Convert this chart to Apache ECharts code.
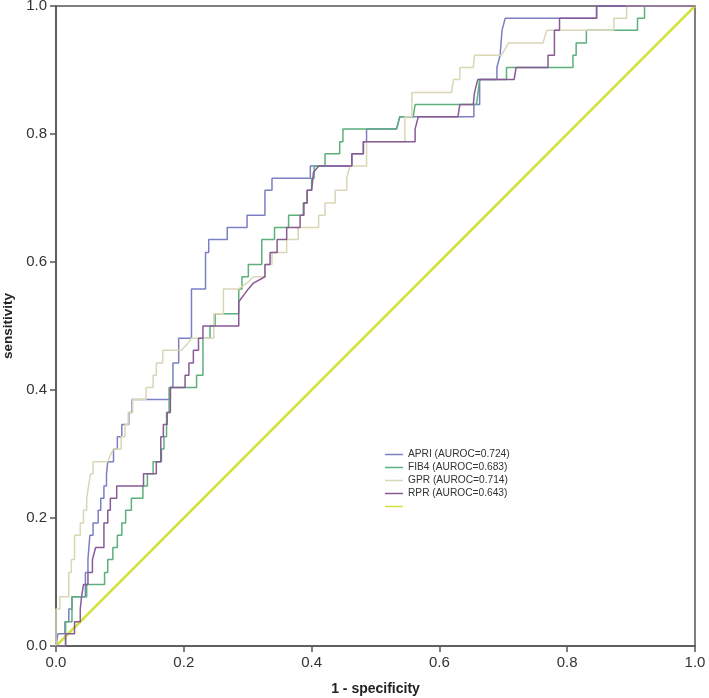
<!DOCTYPE html>
<html>
<head>
<meta charset="utf-8">
<script src="https://cdn.jsdelivr.net/npm/echarts@6/dist/echarts.min.js"></script>
<style>
html,body{margin:0;padding:0;background:#fff;}
#chart{width:709px;height:698px;}
</style>
</head>
<body>
<div id="chart"></div>
<script>
// ROC points [1 - specificity, sensitivity]
const apri = [[0,0],[0.003,0],[0.003,0.019],[0.014,0.019],[0.014,0.038],[0.02,0.038],[0.02,0.058],[0.025,0.058],[0.025,0.077],[0.046,0.077],[0.046,0.115],[0.05,0.115],[0.05,0.135],[0.053,0.135],[0.053,0.173],[0.058,0.173],[0.058,0.192],[0.066,0.192],[0.066,0.212],[0.07,0.212],[0.07,0.231],[0.075,0.231],[0.075,0.25],[0.079,0.25],[0.079,0.269],[0.081,0.269],[0.081,0.288],[0.09,0.288],[0.09,0.308],[0.096,0.308],[0.096,0.327],[0.103,0.327],[0.103,0.346],[0.114,0.346],[0.114,0.365],[0.119,0.365],[0.119,0.385],[0.179,0.385],[0.179,0.404],[0.183,0.404],[0.183,0.442],[0.192,0.442],[0.192,0.481],[0.212,0.481],[0.212,0.558],[0.234,0.558],[0.234,0.615],[0.239,0.615],[0.239,0.635],[0.268,0.635],[0.268,0.654],[0.299,0.654],[0.299,0.673],[0.327,0.673],[0.327,0.712],[0.338,0.712],[0.338,0.731],[0.398,0.731],[0.398,0.75],[0.463,0.75],[0.463,0.769],[0.481,0.769],[0.481,0.788],[0.486,0.788],[0.486,0.808],[0.533,0.808],[0.538,0.827],[0.654,0.827],[0.654,0.846],[0.663,0.846],[0.663,0.885],[0.69,0.885],[0.69,0.904],[0.695,0.923],[0.698,0.962],[0.703,0.981],[0.846,0.981],[0.846,1],[1,1]];
const fib4 = [[0,0],[0.015,0],[0.015,0.038],[0.025,0.038],[0.025,0.077],[0.048,0.077],[0.048,0.096],[0.076,0.096],[0.076,0.115],[0.081,0.115],[0.081,0.135],[0.089,0.135],[0.089,0.154],[0.096,0.154],[0.096,0.173],[0.103,0.173],[0.103,0.192],[0.109,0.192],[0.109,0.212],[0.118,0.212],[0.118,0.231],[0.136,0.231],[0.136,0.25],[0.143,0.25],[0.143,0.269],[0.152,0.269],[0.152,0.288],[0.165,0.288],[0.165,0.308],[0.169,0.308],[0.169,0.327],[0.173,0.327],[0.173,0.365],[0.177,0.365],[0.177,0.404],[0.22,0.404],[0.22,0.423],[0.23,0.423],[0.23,0.481],[0.241,0.481],[0.241,0.5],[0.249,0.5],[0.249,0.519],[0.286,0.519],[0.286,0.558],[0.291,0.558],[0.291,0.577],[0.301,0.577],[0.301,0.596],[0.322,0.596],[0.322,0.635],[0.342,0.635],[0.342,0.654],[0.364,0.654],[0.364,0.673],[0.387,0.673],[0.387,0.692],[0.393,0.692],[0.393,0.712],[0.4,0.712],[0.4,0.731],[0.404,0.731],[0.404,0.75],[0.421,0.75],[0.421,0.769],[0.444,0.769],[0.444,0.788],[0.449,0.788],[0.449,0.808],[0.533,0.808],[0.538,0.827],[0.559,0.827],[0.562,0.846],[0.658,0.846],[0.663,0.885],[0.705,0.885],[0.705,0.904],[0.809,0.904],[0.809,0.923],[0.814,0.923],[0.814,0.942],[0.83,0.942],[0.83,0.962],[0.91,0.962],[0.91,0.981],[0.921,0.981],[0.921,1],[1,1]];
const gpr = [[0,0],[0,0.058],[0.006,0.058],[0.006,0.077],[0.02,0.077],[0.02,0.115],[0.024,0.115],[0.024,0.135],[0.029,0.135],[0.029,0.173],[0.038,0.173],[0.038,0.192],[0.043,0.192],[0.043,0.212],[0.048,0.212],[0.048,0.231],[0.051,0.231],[0.051,0.25],[0.054,0.25],[0.054,0.269],[0.058,0.269],[0.058,0.288],[0.081,0.288],[0.085,0.298],[0.09,0.308],[0.102,0.308],[0.102,0.327],[0.108,0.327],[0.108,0.346],[0.113,0.346],[0.113,0.365],[0.12,0.365],[0.12,0.385],[0.141,0.385],[0.141,0.404],[0.152,0.404],[0.152,0.423],[0.157,0.423],[0.157,0.442],[0.167,0.442],[0.167,0.462],[0.196,0.462],[0.205,0.471],[0.212,0.481],[0.247,0.481],[0.247,0.519],[0.262,0.519],[0.262,0.558],[0.286,0.558],[0.3,0.568],[0.309,0.577],[0.327,0.577],[0.327,0.596],[0.338,0.596],[0.338,0.615],[0.361,0.615],[0.361,0.635],[0.379,0.635],[0.379,0.654],[0.411,0.654],[0.411,0.673],[0.421,0.673],[0.421,0.692],[0.437,0.692],[0.437,0.712],[0.455,0.712],[0.455,0.731],[0.46,0.75],[0.486,0.75],[0.486,0.788],[0.546,0.788],[0.546,0.827],[0.557,0.827],[0.557,0.865],[0.619,0.865],[0.622,0.885],[0.632,0.885],[0.632,0.904],[0.653,0.904],[0.655,0.923],[0.697,0.923],[0.708,0.942],[0.762,0.942],[0.768,0.962],[0.873,0.962],[0.873,0.981],[0.893,0.981],[0.893,1],[1,1]];
const rpr = [[0,0],[0.015,0],[0.015,0.019],[0.029,0.019],[0.029,0.038],[0.038,0.038],[0.038,0.058],[0.04,0.077],[0.043,0.077],[0.043,0.096],[0.05,0.096],[0.05,0.115],[0.057,0.115],[0.057,0.135],[0.062,0.154],[0.075,0.154],[0.075,0.192],[0.081,0.192],[0.081,0.212],[0.085,0.212],[0.085,0.231],[0.095,0.231],[0.095,0.25],[0.137,0.25],[0.137,0.269],[0.157,0.269],[0.157,0.288],[0.164,0.288],[0.164,0.327],[0.168,0.327],[0.168,0.346],[0.174,0.346],[0.174,0.365],[0.179,0.365],[0.179,0.404],[0.202,0.404],[0.202,0.423],[0.208,0.423],[0.208,0.442],[0.215,0.442],[0.215,0.462],[0.223,0.462],[0.223,0.481],[0.23,0.481],[0.23,0.5],[0.286,0.5],[0.286,0.538],[0.301,0.558],[0.309,0.567],[0.327,0.577],[0.327,0.596],[0.335,0.596],[0.335,0.615],[0.346,0.615],[0.346,0.635],[0.361,0.635],[0.361,0.654],[0.382,0.654],[0.382,0.673],[0.388,0.673],[0.388,0.692],[0.393,0.692],[0.393,0.712],[0.4,0.712],[0.403,0.74],[0.411,0.75],[0.463,0.75],[0.463,0.769],[0.481,0.769],[0.481,0.788],[0.562,0.788],[0.562,0.808],[0.567,0.827],[0.629,0.827],[0.632,0.846],[0.653,0.846],[0.655,0.865],[0.66,0.885],[0.717,0.885],[0.72,0.904],[0.77,0.904],[0.77,0.923],[0.78,0.923],[0.78,0.962],[0.788,0.962],[0.788,0.981],[0.846,0.981],[0.846,1],[1,1]];
const reference = [[0,0],[1,1]];

const seriesNames = ['APRI (AUROC=0.724)','FIB4 (AUROC=0.683)','GPR (AUROC=0.714)','RPR (AUROC=0.643)',' '];
const seriesColors = ['#7b7fc4','#5bb07c','#d9d7b5','#885a96','#d3e23e'];
const seriesData = [apri, fib4, gpr, rpr, reference];

const font = 'Liberation Sans, Arial, Helvetica, sans-serif';
const chart = echarts.init(document.getElementById('chart'), null, {renderer:'canvas'});

const series = seriesData.map((d, i) => ({
  name: seriesNames[i],
  type: 'line',
  data: d,
  symbol: 'none',
  silent: true,
  lineStyle: {color: seriesColors[i], width: i === 4 ? 2.5 : 1.5},
  itemStyle: {color: seriesColors[i]},
  z: i === 4 ? 1 : 2 + i
}));

chart.setOption({
  animation: false,
  backgroundColor: '#fff',
  grid: {left: 56, right: 14, top: 6, bottom: 52, containLabel: false, outerBoundsMode: 'none',
         show: true, borderColor: '#555', borderWidth: 1.5},
  legend: {
    data: seriesNames,
    orient: 'vertical',
    left: 385,
    top: 448,
    padding: 0,
    icon: 'rect',
    itemWidth: 18,
    itemHeight: 1.5,
    itemGap: 0,
    selectedMode: false,
    textStyle: {fontFamily: font, fontSize: 10.2, color: '#333', lineHeight: 13}
  },
  xAxis: {
    type: 'value', min: 0, max: 1, interval: 0.2,
    name: '1 - specificity', nameLocation: 'middle', nameGap: 36,
    nameTextStyle: {fontFamily: font, fontSize: 14, fontWeight: 'bold', color: '#222'},
    axisLine: {show: true, lineStyle: {color: '#555', width: 1.5}},
    axisTick: {show: true, length: 6, lineStyle: {color: '#555', width: 1.5}},
    axisLabel: {fontFamily: font, fontSize: 15, color: '#333', margin: 9, formatter: v => v.toFixed(1)},
    splitLine: {show: false}
  },
  yAxis: {
    type: 'value', min: 0, max: 1, interval: 0.2,
    name: 'sensitivity', nameLocation: 'middle', nameGap: 40,
    nameTextStyle: {fontFamily: font, fontSize: 13.5, fontWeight: 'bold', color: '#222'},
    axisLine: {show: true, lineStyle: {color: '#555', width: 1.5}},
    axisTick: {show: true, length: 6, lineStyle: {color: '#555', width: 1.5}},
    axisLabel: {fontFamily: font, fontSize: 15, color: '#333', margin: 9, formatter: v => v.toFixed(1)},
    splitLine: {show: false}
  },
  series: series
});
</script>
</body>
</html>
